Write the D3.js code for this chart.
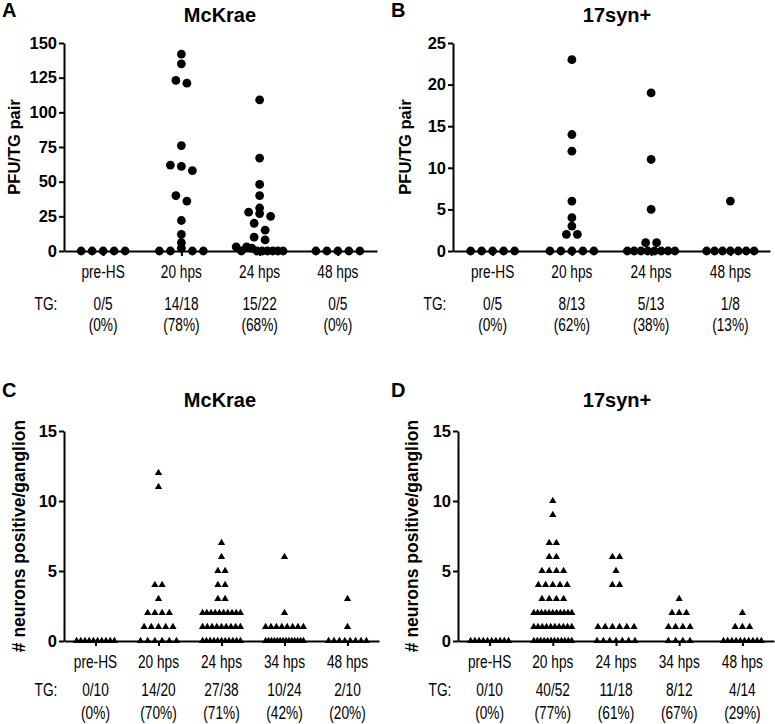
<!DOCTYPE html>
<html>
<head>
<meta charset="utf-8">
<script src="https://cdn.jsdelivr.net/npm/d3@7"></script>
<style>
  body { margin: 0; background: #fff; }
  svg { display: block; font-family: "Liberation Sans", Arial, sans-serif; }
</style>
</head>
<body>
<svg id="svg" width="775" height="724"></svg>
<script>
// categories
const catsAB = ["pre-HS", "20 hps", "24 hps", "48 hps"];
const catsCD = ["pre-HS", "20 hps", "24 hps", "34 hps", "48 hps"];

// A: McKrae, PFU per TG pair
const mckraePfu = [
  [0, 0, 0, 0, 0],
  [142, 135, 123, 121, 76, 62, 61, 58, 40, 36, 22, 12, 6, 0, 0, 2, 0, 0],
  [109, 67, 48, 40, 31, 28, 27, 25, 20, 15, 10, 8, 3, 0, 3, 2, 0, 0, 0, 0, 0, 0],
  [0, 0, 0, 0, 0]
];
// B: 17syn+, PFU per TG pair
const synPfu = [
  [0, 0, 0, 0, 0],
  [23, 14, 12, 6, 4, 3, 2, 2, 0, 0, 0, 0, 0],
  [19, 11, 5, 1, 0, 0, 0, 0, 0, 0, 0, 0, 1],
  [6, 0, 0, 0, 0, 0, 0, 0]
];
// C: McKrae, neurons positive per ganglion
const mckraeNeurons = [
  [0, 0, 0, 0, 0, 0, 0, 0, 0, 0],
  [12, 11, 4, 4, 3, 2, 2, 2, 2, 1, 1, 1, 1, 1, 0, 0, 0, 0, 0, 0],
  [7, 6, 5, 5, 4, 4, 3, 3, 2, 2, 2, 2, 2, 2, 2, 2, 2, 2, 1, 1, 1, 1, 1, 1, 1, 1, 1,
   0, 0, 0, 0, 0, 0, 0, 0, 0, 0, 0],
  [6, 2, 1, 1, 1, 1, 1, 1, 1, 1, 0, 0, 0, 0, 0, 0, 0, 0, 0, 0, 0, 0, 0, 0],
  [3, 1, 0, 0, 0, 0, 0, 0, 0, 0]
];
// D: 17syn+, neurons positive per ganglion
const synNeurons = [
  [0, 0, 0, 0, 0, 0, 0, 0, 0, 0],
  [10, 9, 7, 7, 6, 6, 5, 5, 5, 5, 4, 4, 4, 4, 4, 3, 3, 3, 3,
   2, 2, 2, 2, 2, 2, 2, 2, 2, 2, 2, 1, 1, 1, 1, 1, 1, 1, 1, 1, 1,
   0, 0, 0, 0, 0, 0, 0, 0, 0, 0, 0, 0],
  [6, 6, 5, 4, 4, 1, 1, 1, 1, 1, 1, 0, 0, 0, 0, 0, 0, 0],
  [3, 2, 2, 2, 1, 1, 1, 1, 0, 0, 0, 0],
  [2, 1, 1, 1, 0, 0, 0, 0, 0, 0, 0, 0, 0, 0]
];

// tick values
const ticksA = [0, 25, 50, 75, 100, 125, 150];
const ticksB = [0, 5, 10, 15, 20, 25];
const ticksCD = [0, 5, 10, 15];

// TG counts under each panel
const fracA = ["0/5", "14/18", "15/22", "0/5"];
const pctA = ["(0%)", "(78%)", "(68%)", "(0%)"];
const fracB = ["0/5", "8/13", "5/13", "1/8"];
const pctB = ["(0%)", "(62%)", "(38%)", "(13%)"];
const fracC = ["0/10", "14/20", "27/38", "10/24", "2/10"];
const pctC = ["(0%)", "(70%)", "(71%)", "(42%)", "(20%)"];
const fracD = ["0/10", "40/52", "11/18", "8/12", "4/14"];
const pctD = ["(0%)", "(77%)", "(61%)", "(67%)", "(29%)"];

const panels = [
  { letter: "A", title: "McKrae", cats: catsAB, data: mckraePfu, ticks: ticksA, ylabel: "PFU/TG pair",
    frac: fracA, pct: pctA, sym: "dot", left: 64, right: 377, top: 43, bottom: 251, lx: 2, ly: 17,
    tx: 220, ty: 22, labY: 278, fracY: 310, pctY: 331, ylx: 14, ylSize: 16.5 },
  { letter: "B", title: "17syn+", cats: catsAB, data: synPfu, ticks: ticksB, ylabel: "PFU/TG pair",
    frac: fracB, pct: pctB, sym: "dot", left: 453, right: 770, top: 43, bottom: 251, lx: 391, ly: 17,
    tx: 617, ty: 22, labY: 278, fracY: 310, pctY: 331, ylx: 405, ylSize: 16.5 },
  { letter: "C", title: "McKrae", cats: catsCD, data: mckraeNeurons, ticks: ticksCD, ylabel: "# neurons positive/ganglion",
    frac: fracC, pct: pctC, sym: "tri", left: 64, right: 379, top: 431, bottom: 641, lx: 2, ly: 397,
    tx: 220, ty: 407, labY: 668, fracY: 696, pctY: 719, ylx: 19, ylSize: 17.5 },
  { letter: "D", title: "17syn+", cats: catsCD, data: synNeurons, ticks: ticksCD, ylabel: "# neurons positive/ganglion",
    frac: fracD, pct: pctD, sym: "tri", left: 458, right: 774, top: 431, bottom: 641, lx: 391, ly: 397,
    tx: 617, ty: 407, labY: 668, fracY: 696, pctY: 719, ylx: 412, ylSize: 17.5 }
];

const svg = d3.select("#svg");
svg.append("rect").attr("width", 775).attr("height", 724).attr("fill", "#fff");

// rows of points: bin from the bottom up, spread each row around the category centre
function swarm(values, cx, y, binH, spacing, maxW) {
  let pts = values.map((v, i) => ({ v: v, i: i, y: y(v) }));
  let sorted = pts.slice().sort((a, b) => (b.y - a.y) || (a.i - b.i));
  let bins = [];
  let cur = null;
  for (let p of sorted) {
    if (!cur || cur.y0 - p.y >= binH) {
      cur = { y0: p.y, pts: [] };
      bins.push(cur);
    }
    cur.pts.push(p);
  }
  for (let b of bins) {
    b.pts.sort((a, c) => a.i - c.i);
    let n = b.pts.length;
    let sp = n > 1 ? Math.min(spacing, maxW / (n - 1)) : 0;
    b.pts.forEach((p, k) => { p.x = cx + (k - (n - 1) / 2) * sp; });
  }
  return pts;
}

function narrow(g, x, y, txt, anchor) {
  g.append("text")
    .attr("transform", `translate(${x},${y}) scale(0.74,1)`)
    .attr("text-anchor", anchor || "middle")
    .style("font-size", "18.5px")
    .attr("fill", "#000")
    .text(txt);
}

panels.forEach(p => {
  let g = svg.append("g");
  let yMax = p.ticks[p.ticks.length - 1];
  let y = d3.scaleLinear().domain([0, yMax]).range([p.bottom, p.top]);
  let x = d3.scalePoint().domain(p.cats).range([p.left, p.right]).padding(0.5);

  // panel letter + title
  g.append("text").attr("x", p.lx).attr("y", p.ly).style("font-size", "20px")
    .style("font-weight", "bold").text(p.letter);
  g.append("text").attr("x", p.tx).attr("y", p.ty).attr("text-anchor", "middle")
    .style("font-size", "20px").style("font-weight", "bold").text(p.title);

  // y axis
  let ya = g.append("g").attr("transform", `translate(${p.left},0)`)
    .call(d3.axisLeft(y).tickValues(p.ticks).tickSize(5).tickSizeOuter(0).tickPadding(2));
  ya.selectAll("path, line").attr("stroke", "#000").attr("stroke-width", 2);
  ya.selectAll("text").style("font-size", "16.5px").style("font-weight", "bold")
    .style("font-family", "'Liberation Sans', Arial, sans-serif").attr("fill", "#000");

  // x axis
  let xa = g.append("g").attr("transform", `translate(0,${p.bottom})`)
    .call(d3.axisBottom(x).tickSize(5).tickSizeOuter(0).tickFormat(""));
  xa.selectAll("path, line").attr("stroke", "#000").attr("stroke-width", 2);

  g.append("text")
    .attr("transform", `translate(${p.ylx},${(p.top + p.bottom) / 2}) rotate(-90)`)
    .attr("text-anchor", "middle").attr("dy", "0.35em")
    .style("font-size", p.ylSize + "px").style("font-weight", "bold").text(p.ylabel);

  // points
  let step = x.step();
  p.cats.forEach((c, ci) => {
    let cx = x(c);
    if (p.sym === "dot") {
      let pts = swarm(p.data[ci], cx, y, 8, 11, step * 0.6);
      g.selectAll(null).data(pts).enter().append("circle")
        .attr("cx", d => d.x).attr("cy", d => d.y).attr("r", 4.4).attr("fill", "#000");
    } else {
      let pts = swarm(p.data[ci], cx, y, 7, 7.2, step * 0.6);
      let sym = d3.symbol(d3.symbolTriangle, 23);
      g.selectAll(null).data(pts).enter().append("path")
        .attr("d", sym).attr("transform", d => `translate(${d.x},${d.y})`).attr("fill", "#000");
    }
    narrow(g, cx, p.labY, c);
    narrow(g, cx, p.fracY, p.frac[ci]);
    narrow(g, cx, p.pctY, p.pct[ci]);
  });
  narrow(g, p.left - 18, p.fracY, "TG:");
});
</script>
</body>
</html>
